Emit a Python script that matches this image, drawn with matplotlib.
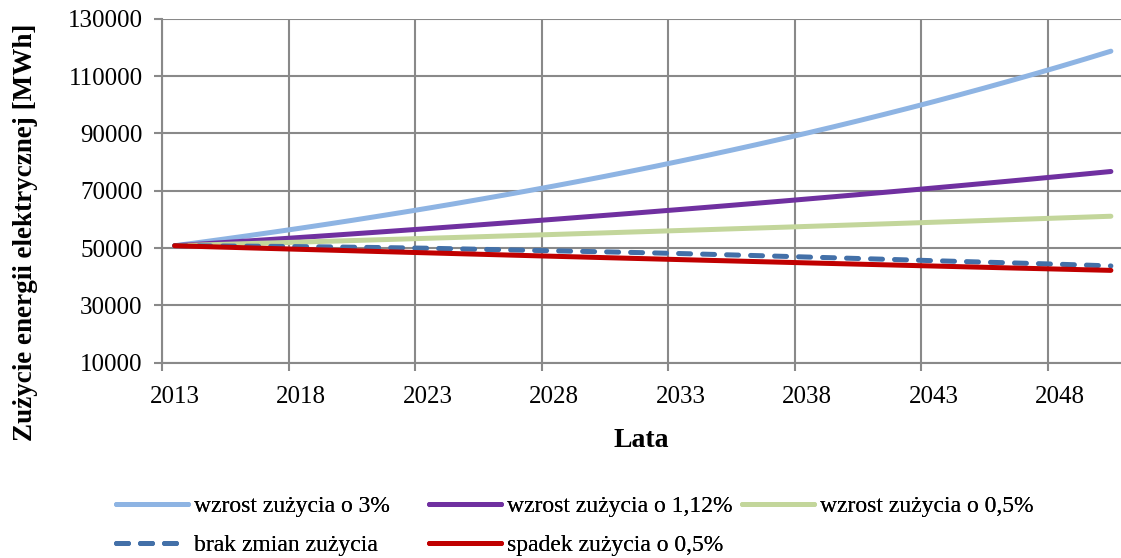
import matplotlib
matplotlib.use("Agg")
import matplotlib.pyplot as plt
from matplotlib.ticker import FixedLocator, NullFormatter

plt.rcParams['font.family'] = ['Liberation Serif', 'DejaVu Serif']

years = list(range(2013, 2051))

# wartosci [MWh]
wzrost_3 = [50800, 51980, 53190, 54420, 55680, 56970, 58290, 59640, 61030, 62440,
            63890, 65370, 66890, 68440, 70030, 71650, 73310, 75010, 76750, 78530,
            80360, 82220, 84130, 86080, 88080, 90120, 92210, 94350, 96540, 98780,
            101070, 103420, 105820, 108270, 110780, 113350, 115980, 118670]
wzrost_112 = [50800, 51370, 51940, 52530, 53110, 53710, 54310, 54920, 55530, 56150,
              56780, 57420, 58060, 58710, 59370, 60030, 60710, 61390, 62070, 62770,
              63470, 64180, 64900, 65630, 66360, 67110, 67860, 68620, 69390, 70160,
              70950, 71740, 72550, 73360, 74180, 75010, 75850, 76700]
wzrost_05 = [50800, 51050, 51310, 51570, 51820, 52080, 52340, 52600, 52870, 53130,
             53400, 53660, 53930, 54200, 54470, 54740, 55020, 55290, 55570, 55840,
             56120, 56400, 56690, 56970, 57250, 57540, 57830, 58120, 58410, 58700,
             59000, 59290, 59590, 59890, 60190, 60490, 60790, 61090]
brak_zmian = [50800, 50750, 50700, 50640, 50570, 50490, 50400, 50290, 50180, 50060,
              49930, 49750, 49570, 49390, 49210, 49030, 48850, 48670, 48480, 48280,
              48070, 47840, 47600, 47360, 47110, 46860, 46610, 46350, 46100, 45840,
              45580, 45330, 45080, 44830, 44590, 44330, 44050, 43750]
spadek_05 = [50800, 50550, 50290, 50040, 49790, 49540, 49300, 49050, 48800, 48560,
             48320, 48080, 47840, 47600, 47360, 47120, 46890, 46650, 46420, 46190,
             45960, 45730, 45500, 45270, 45050, 44820, 44600, 44380, 44160, 43940,
             43720, 43500, 43280, 43060, 42850, 42640, 42420, 42210]

labels = ['wzrost zużycia o 3%', 'wzrost zużycia o 1,12%', 'wzrost zużycia o 0,5%',
          'brak zmian zużycia', 'spadek zużycia o 0,5%']
colors = ['#8EB4E3', '#7030A0', '#C3D69B', '#4370A8', '#C00000']

W, H = 1121, 558
fig = plt.figure(figsize=(W/100, H/100), dpi=100)
ax = fig.add_axes([162/W, 1-362.7/H, 1-162/W, (362.7-18.7)/H])

x = list(range(len(years)))
series = [wzrost_3, wzrost_112, wzrost_05, brak_zmian, spadek_05]
lines = []
for i, (s, c, l) in enumerate(zip(series, colors, labels)):
    if i == 3:
        ln, = ax.plot(x, s, color=c, lw=3.6, label=l, dash_capstyle='round',
                      solid_capstyle='round')
        ln.set_dashes([2.4, 2.4])
    else:
        ln, = ax.plot(x, s, color=c, lw=3.6, label=l, solid_capstyle='round')
    lines.append(ln)

ax.set_xlim(-0.5, 37.4)
ax.set_ylim(10000, 130000)
ax.set_yticks(range(10000, 130001, 20000))
ax.xaxis.set_major_locator(FixedLocator([i - 0.5 for i in range(0, 38, 5)]))
ax.xaxis.set_major_formatter(NullFormatter())
ax.xaxis.set_minor_locator(FixedLocator(list(range(0, 38, 5))))
ax.set_xticklabels([str(years[i]) for i in range(0, 38, 5)], minor=True)

grid_c = '#898989'
ax.grid(True, which='major', color=grid_c, lw=1.5)
for sp in ['top', 'right']:
    ax.spines[sp].set_visible(False)
for sp in ['left', 'bottom']:
    ax.spines[sp].set_color(grid_c)
    ax.spines[sp].set_linewidth(1.5)
ax.tick_params(axis='both', which='major', color=grid_c, length=6, width=1.5,
               labelsize=18)
ax.tick_params(axis='y', pad=8)
ax.tick_params(axis='x', which='minor', length=0, labelsize=18, pad=17)
ax.set_axisbelow(True)

ax.set_xlabel('Lata', fontsize=20, fontweight='bold', labelpad=14)
ax.set_ylabel('Zużycie energii elektrycznej [MWh]', fontsize=19.5, fontweight='bold')
ax.yaxis.set_label_coords(-0.129, 0.38)

# legenda: trzy kolumny o stalych pozycjach
cols = [([0, 3], 95), ([1, 4], 408), ([2], 721)]
for idx, x0 in cols:
    leg = fig.legend([lines[i] for i in idx], [labels[i] for i in idx],
                     loc='upper left', bbox_to_anchor=(x0/W, 1-474/H),
                     frameon=False, fontsize=17, handlelength=3.05,
                     handletextpad=0.25, labelspacing=0.75)
    fig.add_artist(leg)

fig.savefig('out.png', dpi=100)
